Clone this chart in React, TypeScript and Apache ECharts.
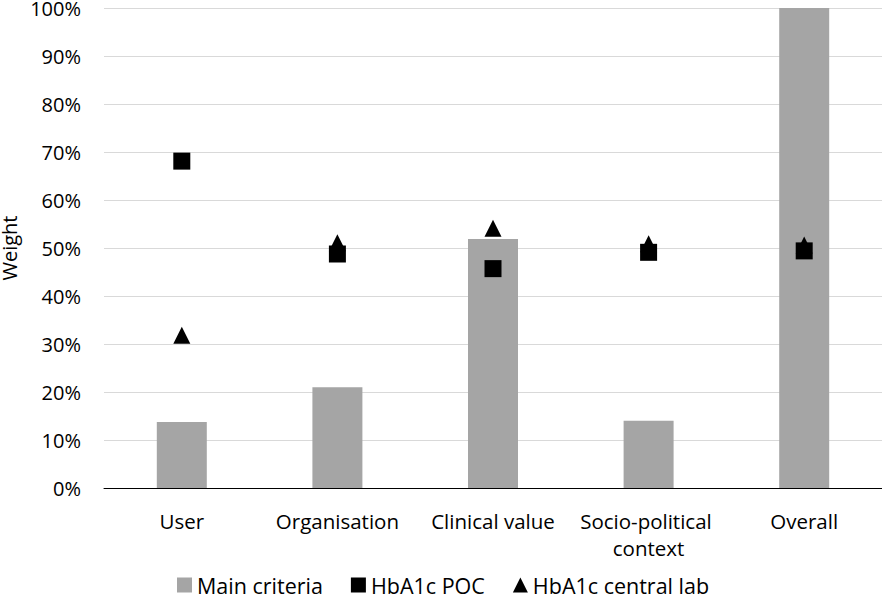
import React, { useEffect, useRef } from "react";
import * as echarts from "echarts";

const categories = ["User", "Organisation", "Clinical value", "Socio-political context", "Overall"];
const mainCriteria = [0.1375, 0.21, 0.519, 0.14, 1.0];
const hba1cPoc = [0.681, 0.4875, 0.457, 0.491, 0.494];
const hba1cCentralLab = [0.318, 0.511, 0.541, 0.509, 0.506];
const yTicks = { min: 0, max: 1, interval: 0.1 };

const FONT = "'Open Sans', sans-serif";

export default function App() {
  const ref = useRef<HTMLDivElement>(null);
  useEffect(() => {
    if (!ref.current) return;
    const chart = echarts.init(ref.current, undefined, { renderer: "svg" });
    chart.setOption({
      animation: false,
      backgroundColor: "#ffffff",
      textStyle: { fontFamily: FONT },
      grid: { left: 104, right: 0, top: 8, bottom: 110, containLabel: false, outerBoundsMode: "none" },
      legend: {
        bottom: -3,
        left: 172,
        itemGap: 28,
        itemWidth: 15,
        itemHeight: 15,
        textStyle: { fontFamily: FONT, fontSize: 21.5, color: "#000" },
        data: [
          { name: "Main criteria", icon: "rect" },
          { name: "HbA1c POC", icon: "rect" },
          { name: "HbA1c central lab", icon: "triangle" },
        ],
      },
      xAxis: {
        type: "category",
        data: categories,
        axisLine: { lineStyle: { color: "#000", width: 1 } },
        axisTick: { show: false },
        axisLabel: {
          fontFamily: FONT,
          fontSize: 20.5,
          color: "#000",
          margin: 19,
          lineHeight: 27,
          width: 150,
          overflow: "break",
          interval: 0,
        },
      },
      yAxis: {
        type: "value",
        min: yTicks.min,
        max: yTicks.max,
        interval: yTicks.interval,
        name: "Weight",
        nameLocation: "middle",
        nameGap: 81,
        nameTextStyle: { fontFamily: FONT, fontSize: 20, color: "#000", lineHeight: 20 },
        axisLine: { show: false },
        axisTick: { show: false },
        splitLine: { lineStyle: { color: "#d9d9d9", width: 1 } },
        axisLabel: {
          fontFamily: FONT,
          fontSize: 20,
          color: "#000",
          margin: 23,
          formatter: (v: number) => Math.round(v * 100) + "%",
        },
      },
      series: [
        {
          name: "Main criteria",
          type: "bar",
          data: mainCriteria,
          barWidth: 50,
          itemStyle: { color: "#a5a5a5" },
        },
        {
          name: "HbA1c POC",
          type: "scatter",
          data: hba1cPoc,
          symbol: "rect",
          symbolSize: 17,
          itemStyle: { color: "#000", opacity: 1 },
        },
        {
          name: "HbA1c central lab",
          type: "scatter",
          data: hba1cCentralLab,
          symbol: "triangle",
          symbolSize: 17,
          itemStyle: { color: "#000", opacity: 1 },
        },
      ],
    });
    return () => chart.dispose();
  }, []);
  return <div ref={ref} style={{ width: 882, height: 598, position: "absolute", left: 0, top: 0 }} />;
}
